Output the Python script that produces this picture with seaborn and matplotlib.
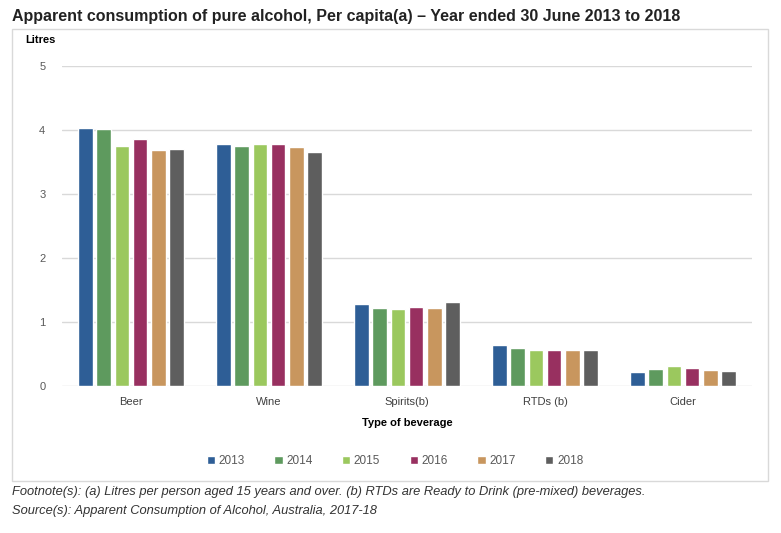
import matplotlib
matplotlib.use("Agg")
import matplotlib.pyplot as plt
import seaborn as sns
import pandas as pd
from matplotlib.patches import Rectangle

categories = ["Beer", "Wine", "Spirits(b)", "RTDs (b)", "Cider"]
years = ["2013", "2014", "2015", "2016", "2017", "2018"]
values = {
    "2013": [4.03, 3.78, 1.28, 0.64, 0.22],
    "2014": [4.02, 3.75, 1.22, 0.59, 0.27],
    "2015": [3.75, 3.78, 1.20, 0.56, 0.31],
    "2016": [3.86, 3.78, 1.23, 0.56, 0.28],
    "2017": [3.68, 3.73, 1.22, 0.56, 0.25],
    "2018": [3.70, 3.66, 1.31, 0.56, 0.23],
}
yticks = [0, 1, 2, 3, 4, 5]
colors = ["#2E5E96", "#5E9A5E", "#9BC85E", "#983060", "#C8965E", "#5E5E5E"]

rows = []
for y in years:
    for c, v in zip(categories, values[y]):
        rows.append({"Type of beverage": c, "Year": y, "Litres": v})
df = pd.DataFrame(rows)

sns.set_theme(style="white")
plt.rcParams["font.family"] = ["Liberation Sans", "DejaVu Sans"]

W, H = 781, 533
fig = plt.figure(figsize=(W / 100, H / 100), dpi=100)

def fx(px):
    return px / W

def fy(py):
    return 1 - py / H

# Outer box
fig.patches.append(Rectangle((fx(12), fy(481)), fx(768) - fx(12), fy(29) - fy(481),
                             transform=fig.transFigure, fill=False,
                             edgecolor="#D9D9D9", linewidth=1.0))

ax = fig.add_axes([fx(62), fy(386), fx(752) - fx(62), fy(66) - fy(386)])
sns.barplot(data=df, x="Type of beverage", y="Litres", hue="Year", order=categories,
            hue_order=years, palette=colors, width=0.79, gap=0.2, ax=ax,
            errorbar=None, saturation=1, legend=True)

ax.set_ylim(0, 5)
ax.set_xlim(-0.5, 4.5)
ax.set_yticks(yticks)
ax.set_yticklabels([str(t) for t in yticks], fontsize=8, color="#595959")
ax.tick_params(axis="y", length=0, pad=12)
ax.tick_params(axis="x", length=0, pad=8, labelsize=8, labelcolor="#404040")
ax.yaxis.grid(True, color="#D9D9D9", linewidth=1)
ax.set_axisbelow(True)
for s in ax.spines.values():
    s.set_visible(False)
ax.set_ylabel("")
ax.set_xlabel("Type of beverage", fontsize=8, fontweight="bold", color="black", labelpad=8)

handles, labels = ax.get_legend_handles_labels()
ax.get_legend().remove()
fig.legend(handles, labels, loc="center", bbox_to_anchor=(fx(395), fy(461)), ncol=6,
           frameon=False, fontsize=8.5, handlelength=0.7, handleheight=0.7,
           handletextpad=0.3, columnspacing=2.5, labelcolor="#595959")

fig.text(fx(12), fy(17), "Apparent consumption of pure alcohol, Per capita(a) \u2013 Year ended 30 June 2013 to 2018",
         fontsize=11.5, fontweight="bold", color="#222222", va="center", ha="left")
fig.text(fx(25), fy(40), "Litres", fontsize=8, fontweight="bold", color="black", va="center", ha="left")
fig.text(fx(12), fy(492), "Footnote(s): (a) Litres per person aged 15 years and over. (b) RTDs are Ready to Drink (pre-mixed) beverages.",
         fontsize=9.3, style="italic", color="#333333", va="center", ha="left")
fig.text(fx(12), fy(511), "Source(s): Apparent Consumption of Alcohol, Australia, 2017-18",
         fontsize=9.3, style="italic", color="#333333", va="center", ha="left")

fig.savefig("out.png", dpi=100)
